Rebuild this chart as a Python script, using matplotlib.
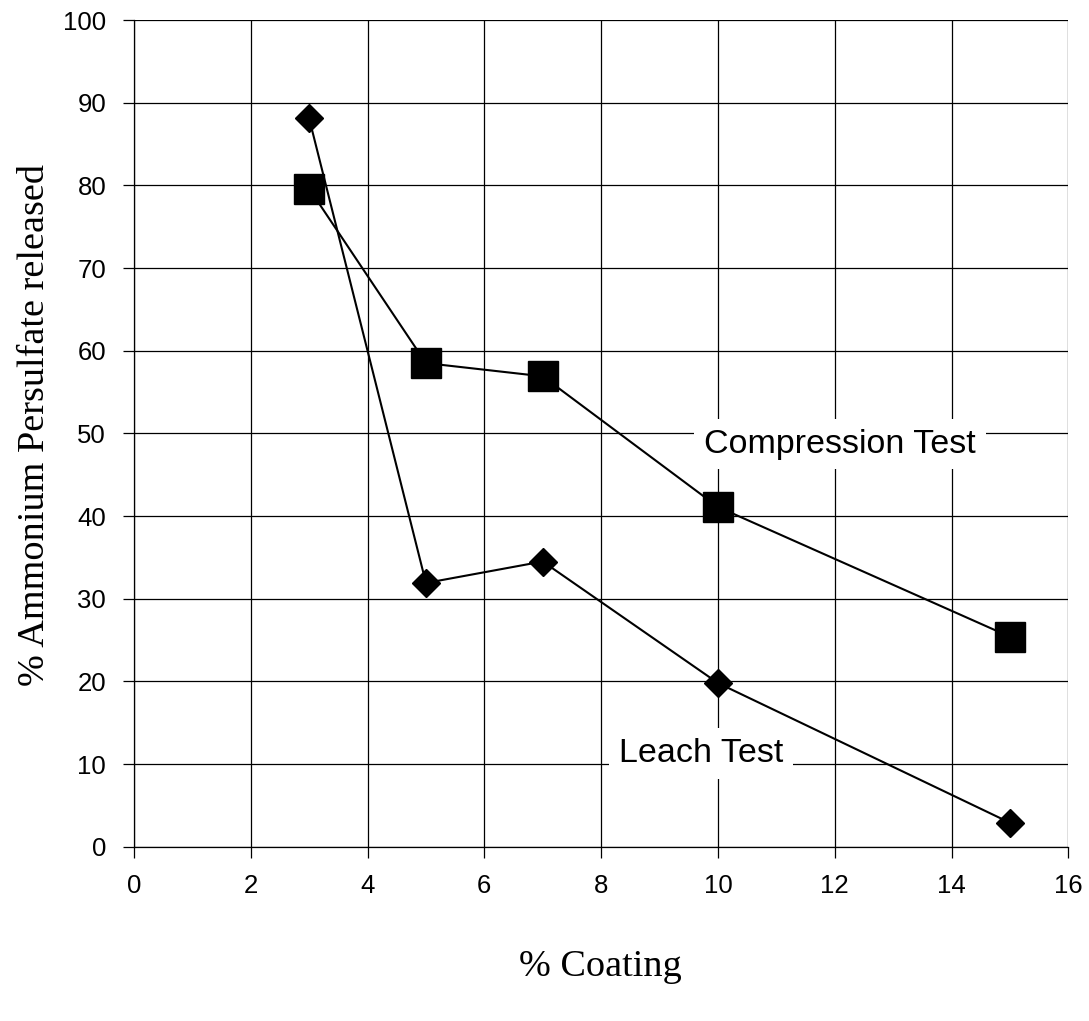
import numpy as np
import matplotlib.pyplot as plt

# data
coating = [3, 5, 7, 10, 15]
compression = [79.6, 58.5, 56.9, 41.1, 25.4]
leach = [88.1, 31.9, 34.5, 19.8, 2.9]

xticks = list(range(0, 17, 2))
yticks = list(range(0, 101, 10))

fig = plt.figure(figsize=(10.89, 10.21), dpi=100)
ax = fig.add_axes([0.123, 0.1707, 0.858, 0.8097])

ax.plot(coating, compression, color='black', lw=1.5, marker='s', ms=21,
        zorder=4, clip_on=False)
ax.plot(coating, leach, color='black', lw=1.5, marker='D', ms=14.5,
        zorder=4, clip_on=False)

ax.set_xlim(0, 16)
ax.set_ylim(0, 100)
ax.set_xticks(xticks)
ax.set_yticks(yticks)
ax.grid(True, color='black', lw=0.9)
ax.set_axisbelow(True)
for side in ['top', 'right']:
    ax.spines[side].set_visible(False)
for side in ['left', 'bottom']:
    ax.spines[side].set_linewidth(0.9)

ax.tick_params(direction='out', length=8, width=0.9, pad=12,
               labelsize=18.5, labelfontfamily='Liberation Sans')

box = dict(facecolor='white', edgecolor='none', pad=7)
ax.text(12.09, 48.7, 'Compression Test', ha='center', va='center',
        fontsize=24.5, family='Liberation Sans', bbox=box, zorder=3)
ax.text(9.71, 11.3, 'Leach Test', ha='center', va='center',
        fontsize=24.5, family='Liberation Sans', bbox=box, zorder=3)

fig.text(0.032, 1 - 425 / 1021, '% Ammonium Persulfate released', rotation=90,
         ha='center', va='center', fontsize=27.5, family='Liberation Serif')
fig.text(0.551, 1 - 967 / 1021, '% Coating', ha='center', va='center',
         fontsize=27.5, family='Liberation Serif')

fig.savefig('out.png', dpi=100)
